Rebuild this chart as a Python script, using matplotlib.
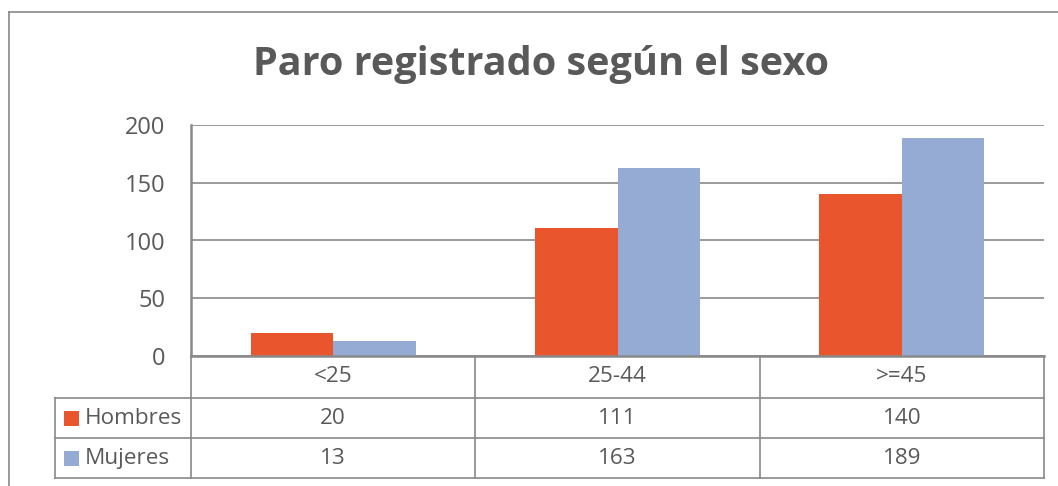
import matplotlib
matplotlib.use("Agg")
import matplotlib.pyplot as plt
from matplotlib.lines import Line2D
from matplotlib.patches import Rectangle

categories = ["<25", "25-44", ">=45"]
series_names = ["Hombres", "Mujeres"]
hombres = [20, 111, 140]
mujeres = [13, 163, 189]
yticks = [0, 50, 100, 150, 200]

colors = ["#E9552C", "#95ABD3"]
text_color = "#595959"
line_color = "#898989"

W, H = 1058, 486
plt.rcParams["font.family"] = ["Open Sans", "DejaVu Sans"]
fig = plt.figure(figsize=(W / 100, H / 100), dpi=100)

def fx(px):
    return px / W

def fy(py):
    return 1 - py / H

# outer chart border (top and left visible)
fig.add_artist(Line2D([fx(9), fx(9)], [fy(12), fy(H + 5)], color=line_color, lw=1.2))
fig.add_artist(Line2D([fx(9), fx(W + 5)], [fy(12), fy(12)], color=line_color, lw=1.2))

L, R, T, B = 191, 1044, 125, 356
ax = fig.add_axes([fx(L), fy(B), fx(R - L), fy(T) - fy(B)])
x = list(range(len(categories)))
bw = 0.29
ax.bar([i - bw / 2 for i in x], hombres, width=bw, color=colors[0], zorder=3)
ax.bar([i + bw / 2 for i in x], mujeres, width=bw, color=colors[1], zorder=3)
ax.set_xlim(-0.5, len(categories) - 0.5)
ax.set_ylim(0, 200)
ax.set_yticks(yticks)
ax.set_yticklabels([str(v) for v in yticks])
ax.tick_params(axis="y", length=0, pad=18.5, labelsize=17, labelcolor=text_color)
ax.set_xticks([])
ax.grid(axis="y", color=line_color, lw=1.2, zorder=0)
for s in ["top", "right"]:
    ax.spines[s].set_visible(False)
ax.spines["left"].set_color(line_color)
ax.spines["left"].set_linewidth(1.8)
ax.spines["bottom"].set_color(line_color)
ax.spines["bottom"].set_linewidth(1.8)
ax.spines["bottom"].set_zorder(4)

# data table below
TL = 55
rows = [356, 398, 438, 478]
col_edges = [L + (R - L) * k / len(categories) for k in range(len(categories) + 1)]
lw_t = 1.2
for yb in rows[1:]:
    fig.add_artist(Line2D([fx(TL), fx(R)], [fy(yb), fy(yb)], color=line_color, lw=lw_t))
for xe in col_edges:
    fig.add_artist(Line2D([fx(xe), fx(xe)], [fy(rows[0]), fy(rows[-1])], color=line_color, lw=lw_t))
fig.add_artist(Line2D([fx(TL), fx(TL)], [fy(rows[1]), fy(rows[-1])], color=line_color, lw=lw_t))

def cy(r):
    return fy((rows[r] + rows[r + 1]) / 2)

fs = 16.2
for k, c in enumerate(categories):
    xc = (col_edges[k] + col_edges[k + 1]) / 2
    fig.text(fx(xc), cy(0), c, ha="center", va="center", fontsize=fs, color=text_color)
for r, (name, vals) in enumerate(zip(series_names, [hombres, mujeres]), start=1):
    yc = (rows[r] + rows[r + 1]) / 2
    fig.add_artist(Rectangle((fx(64), fy(yc + 7.5)), fx(15), fy(yc - 7.5) - fy(yc + 7.5),
                             color=colors[r - 1], lw=0))
    fig.text(fx(85), cy(r), name, ha="left", va="center", fontsize=fs, color=text_color)
    for k, v in enumerate(vals):
        xc = (col_edges[k] + col_edges[k + 1]) / 2
        fig.text(fx(xc), cy(r), str(v), ha="center", va="center", fontsize=fs, color=text_color)

fig.text(fx(541), fy(64), "Paro registrado según el sexo", ha="center", va="center",
         fontsize=28.5, fontweight="bold", color=text_color)

fig.savefig("out.png", dpi=100)
